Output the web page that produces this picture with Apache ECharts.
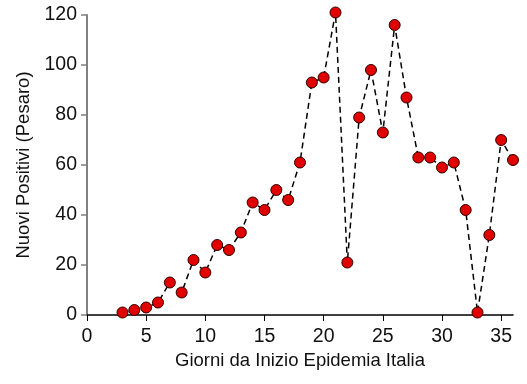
<!DOCTYPE html>
<html><head><meta charset="utf-8">
<script src="https://cdn.jsdelivr.net/npm/echarts@6/dist/echarts.min.js"></script>
<style>html,body{margin:0;padding:0;background:#fff}#c{width:527px;height:384px}</style>
</head><body><div id="c"></div>
<script>
const days = [3,4,5,6,7,8,9,10,11,12,13,14,15,16,17,18,19,20,21,22,23,24,25,26,27,28,29,30,31,32,33,34,35,36];
const newPositives = [1,2,3,5,13,9,22,17,28,26,33,45,42,50,46,61,93,95,121,21,79,98,73,116,87,63,63,59,61,42,1,32,70,62];
const xTicks = [0,5,10,15,20,25,30,35];
const yTicks = [0,20,40,60,80,100,120];

const chart = echarts.init(document.getElementById('c'), null, {renderer:'canvas'});
const font = 'Liberation Sans, Arial, sans-serif';
chart.setOption({
  animation:false,
  backgroundColor:'#fff',
  grid:{left:87,top:15,right:14,bottom:69},
  xAxis:{type:'value',min:0,max:36,interval:5,
    name:'Giorni da Inizio Epidemia Italia',nameLocation:'middle',nameGap:33,
    nameTextStyle:{fontFamily:font,fontSize:18.5,color:'#111'},
    axisLine:{show:true,lineStyle:{color:'#000',width:1.5}},
    axisTick:{show:true,length:6,lineStyle:{color:'#000',width:1},customValues:xTicks},
    axisLabel:{fontFamily:font,fontSize:19.5,color:'#111',margin:12,customValues:xTicks},
    splitLine:{show:false}},
  yAxis:{type:'value',min:0,max:120,interval:20,
    name:'Nuovi Positivi (Pesaro)',nameLocation:'middle',nameGap:53,
    nameTextStyle:{fontFamily:font,fontSize:18.5,color:'#111'},
    axisLine:{show:true,lineStyle:{color:'#808080',width:2}},
    axisTick:{show:true,length:6,lineStyle:{color:'#808080',width:1.5},customValues:yTicks},
    axisLabel:{fontFamily:font,fontSize:19.5,color:'#111',margin:10,customValues:yTicks},
    splitLine:{show:false}},
  series:[{type:'line',data:days.map((d,i)=>[d,newPositives[i]]),
    symbol:'circle',symbolSize:11,
    itemStyle:{color:'#e00000',borderColor:'#300000',borderWidth:1},
    lineStyle:{color:'#000',width:1.5,type:[6,4]},
    clip:false,z:3}]
});
</script></body></html>
